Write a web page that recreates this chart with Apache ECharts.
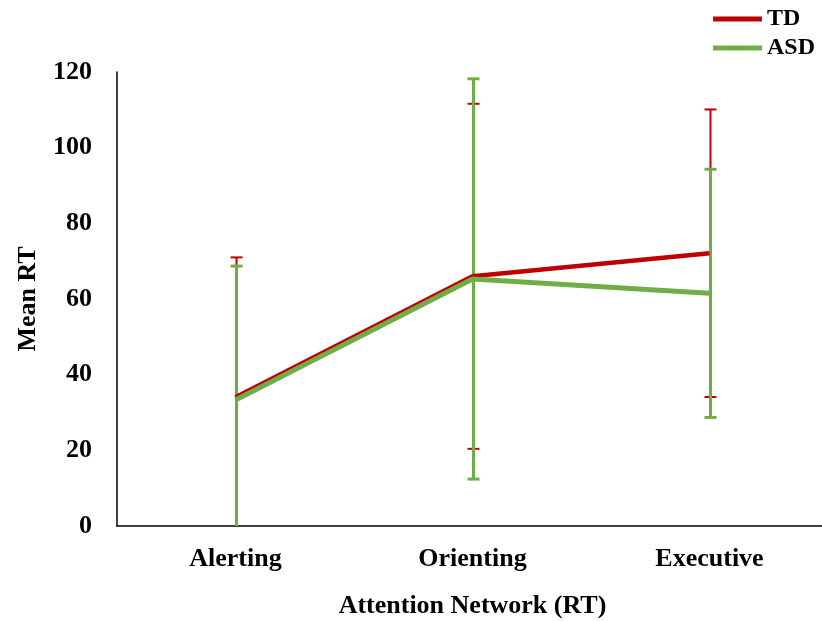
<!DOCTYPE html>
<html>
<head>
<meta charset="utf-8">
<style>
  html, body { margin: 0; padding: 0; background: #ffffff; }
  #chart { width: 822px; height: 621px; }
</style>
<script src="https://cdn.jsdelivr.net/npm/echarts@6/dist/echarts.min.js"></script>
</head>
<body>
<div id="chart"></div>
<script>
// Attention network reaction times by group (mean ± SD)
const categories = ['Alerting', 'Orienting', 'Executive'];
const tdMean = [34.0, 66.0, 72.1];
const tdSD = [37.0, 45.6, 38.0];
const asdMean = [33.3, 65.3, 61.5];
const asdSD = [35.4, 52.9, 32.8];
const yTicks = [0, 20, 40, 60, 80, 100, 120];

const TD_COLOR = '#C00000';
const ASD_COLOR = '#70AD47';
const FONT = '"Liberation Serif", "Times New Roman", serif';

function errorData(means, sds) {
  return means.map((m, i) => [i, m - sds[i], m + sds[i]]);
}

function errorBarRenderer(color, width) {
  return function (params, api) {
    const x = api.value(0);
    const lowPt = api.coord([x, api.value(1)]);
    const highPt = api.coord([x, api.value(2)]);
    const cx = Math.round(highPt[0]) + 0.5;
    const cap = 6;
    const style = { stroke: color, lineWidth: width, fill: null };
    return {
      type: 'group',
      children: [
        { type: 'line', shape: { x1: cx, y1: highPt[1], x2: cx, y2: lowPt[1] }, style: style },
        { type: 'line', shape: { x1: cx - cap, y1: highPt[1], x2: cx + cap, y2: highPt[1] }, style: style },
        { type: 'line', shape: { x1: cx - cap, y1: lowPt[1], x2: cx + cap, y2: lowPt[1] }, style: style }
      ]
    };
  };
}

const chart = echarts.init(document.getElementById('chart'), null, { renderer: 'canvas' });

chart.setOption({
  backgroundColor: '#ffffff',
  animation: false,
  grid: { left: 117, top: 72, width: 711, height: 454, outerBoundsMode: 'none', containLabel: false },
  legend: {
    orient: 'vertical',
    right: 2,
    top: 2,
    itemGap: 5,
    itemWidth: 49,
    itemHeight: 5,
    icon: 'rect',
    textStyle: { fontFamily: FONT, fontWeight: 'bold', fontSize: 24, color: '#000' },
    data: ['TD', 'ASD']
  },
  xAxis: {
    type: 'category',
    data: categories,
    boundaryGap: true,
    name: 'Attention Network (RT)',
    nameLocation: 'middle',
    nameGap: 67,
    nameTextStyle: { fontFamily: FONT, fontWeight: 'bold', fontSize: 26, color: '#000' },
    axisLine: { lineStyle: { color: '#000', width: 1.5 } },
    axisTick: { show: false },
    axisLabel: { fontFamily: FONT, fontWeight: 'bold', fontSize: 26, color: '#000', margin: 20 },
    splitLine: { show: false }
  },
  yAxis: {
    type: 'value',
    min: yTicks[0],
    max: yTicks[yTicks.length - 1],
    interval: yTicks[1] - yTicks[0],
    name: 'Mean RT',
    nameLocation: 'middle',
    nameGap: 76,
    nameRotate: 90,
    nameTextStyle: { fontFamily: FONT, fontWeight: 'bold', fontSize: 26, color: '#000' },
    axisLine: { show: true, lineStyle: { color: '#000', width: 1.5 } },
    axisTick: { show: false },
    axisLabel: { fontFamily: FONT, fontWeight: 'bold', fontSize: 26, color: '#000', margin: 25 },
    splitLine: { show: false }
  },
  series: [
    {
      name: 'TD error',
      type: 'custom',
      clip: true,
      renderItem: errorBarRenderer(TD_COLOR, 2),
      data: errorData(tdMean, tdSD),
      encode: { x: 0, y: [1, 2] },
      z: 1
    },
    {
      name: 'ASD error',
      type: 'custom',
      clip: true,
      renderItem: errorBarRenderer(ASD_COLOR, 3),
      data: errorData(asdMean, asdSD),
      encode: { x: 0, y: [1, 2] },
      z: 2
    },
    {
      name: 'TD',
      type: 'line',
      data: tdMean,
      color: TD_COLOR,
      symbol: 'none',
      lineStyle: { color: TD_COLOR, width: 4.5 },
      z: 3
    },
    {
      name: 'ASD',
      type: 'line',
      data: asdMean,
      color: ASD_COLOR,
      symbol: 'none',
      lineStyle: { color: ASD_COLOR, width: 5 },
      z: 4
    }
  ]
});
</script>
</body>
</html>
